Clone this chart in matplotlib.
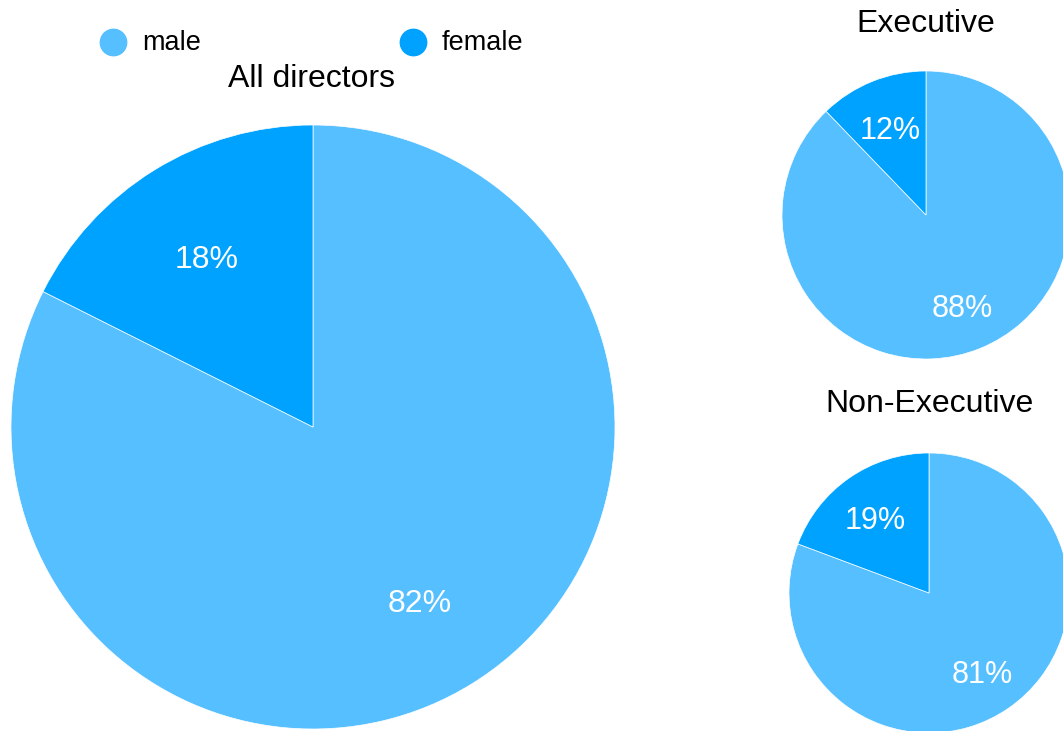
import matplotlib
matplotlib.use("Agg")
import matplotlib.pyplot as plt
from matplotlib.lines import Line2D
from matplotlib.transforms import offset_copy

plt.rcParams['font.family'] = ['Liberation Sans', 'DejaVu Sans']

categories = ["male", "female"]
colors = ["#55BFFF", "#00A2FF"]
all_directors = [82.4, 17.6]
executive = [87.8, 12.2]
non_executive = [80.7, 19.3]

W, H = 1063, 731
fig = plt.figure(figsize=(W / 100, H / 100), dpi=100)


def pie_axes(cx, cy, r):
    return fig.add_axes([(cx - r) / W, (H - (cy + r)) / H, 2 * r / W, 2 * r / H])


def draw(ax, values, fs):
    wedges, texts, autotexts = ax.pie(
        values, colors=colors, startangle=90, counterclock=False,
        autopct=lambda p: f"{p:.0f}%", pctdistance=0.67,
        wedgeprops=dict(edgecolor="white", linewidth=0.5),
        textprops=dict(color="white", fontsize=fs), radius=1)
    for t in autotexts:
        t.set_transform(offset_copy(ax.transData, fig=fig, x=0, y=-5, units="dots"))
    ax.set_xlim(-1, 1)
    ax.set_ylim(-1, 1)
    ax.set_axis_off()


ax1 = pie_axes(313, 427, 302)
draw(ax1, all_directors, 23)
ax2 = pie_axes(926, 215, 144)
draw(ax2, executive, 22)
ax3 = pie_axes(929, 593, 140)
draw(ax3, non_executive, 22)

fig.text(312 / W, 1 - 79 / H, "All directors", ha="center", va="center", fontsize=23)
fig.text(926 / W, 1 - 24 / H, "Executive", ha="center", va="center", fontsize=23)
fig.text(930 / W, 1 - 404 / H, "Non-Executive", ha="center", va="center", fontsize=23)

# legend
for i, (lab, c) in enumerate(zip(categories, colors)):
    x0 = 113 + 300 * i
    fig.add_artist(Line2D([x0 / W], [1 - 42 / H], marker="o", markersize=19,
                          color=c, linestyle="none", transform=fig.transFigure))
    fig.text((x0 + 29) / W, 1 - 43 / H, lab, ha="left", va="center", fontsize=19.5)

fig.savefig("out.png", dpi=100, facecolor="white")
